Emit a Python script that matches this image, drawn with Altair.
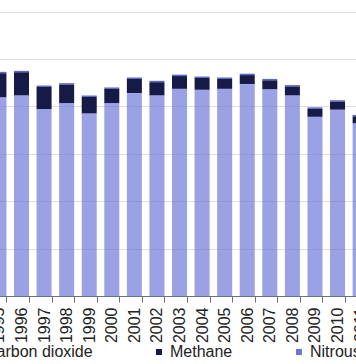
import altair as alt
import pandas as pd

years = [1995, 1996, 1997, 1998, 1999, 2000, 2001, 2002, 2003,
         2004, 2005, 2006, 2007, 2008, 2009, 2010, 2011]
nitrous = [41.9, 42.3, 39.4, 40.7, 38.5, 40.7, 42.8, 42.3, 43.7,
           43.5, 43.7, 44.7, 43.6, 42.3, 37.8, 39.3, 36.4]
methane = [5.1, 4.9, 4.7, 3.9, 3.5, 3.0, 3.0, 2.8, 2.7,
           2.5, 2.1, 1.9, 1.9, 1.9, 1.7, 1.7, 1.5]
co2 = [0.3, 0.3, 0.3, 0.3, 0.3, 0.3, 0.3, 0.3, 0.3,
       0.3, 0.3, 0.3, 0.3, 0.3, 0.3, 0.3, 0.3]

series_names = ["Carbon dioxide", "Methane", "Nitrous oxide"]
series_colors = ["#5a67d0", "#151a47", "#6a76d8"]
stack_order = {"Nitrous oxide": 0, "Methane": 1, "Carbon dioxide": 2}
fill_opacity = {"Nitrous oxide": 0.68, "Methane": 1.0, "Carbon dioxide": 1.0}

rows = []
for name, vals in zip(series_names, [co2, methane, nitrous]):
    for yr, v in zip(years, vals):
        rows.append({"year": str(yr), "series": name, "value": v,
                     "ord": stack_order[name], "op": fill_opacity[name]})
df = pd.DataFrame(rows)

FONT = "Liberation Sans"

chart = alt.Chart(df).mark_bar(clip=True).encode(
    x=alt.X("year:O",
            scale=alt.Scale(range=[-12.36, 371.4], paddingInner=0.335, paddingOuter=0.1675),
            axis=alt.Axis(title=None, labelAngle=270, tickBand="extent",
                          labelFont=FONT, labelFontSize=16, labelColor="#222222",
                          labelPadding=5, tickSize=6, tickColor="#6b7080",
                          domainColor="#6b7080", grid=False)),
    y=alt.Y("value:Q", stack="zero",
            scale=alt.Scale(domain=[0, 62.45], nice=False),
            axis=alt.Axis(title=None, labels=False, ticks=False, domain=False,
                          values=[0, 10, 20, 30, 40, 50, 60],
                          gridColor="#dedede", gridWidth=1)),
    color=alt.Color("series:N",
                    scale=alt.Scale(domain=series_names, range=series_colors),
                    legend=alt.Legend(title=None, orient="none", direction="horizontal",
                                      legendX=-34, legendY=344,
                                      symbolType="square", symbolSize=36,
                                      symbolStrokeWidth=0, symbolOpacity=1,
                                      labelFont=FONT, labelFontSize=16,
                                      labelColor="#222222", labelOffset=3,
                                      columnPadding=58, padding=0)),
    order=alt.Order("ord:Q"),
    opacity=alt.Opacity("op:Q", scale=None, legend=None),
).properties(
    width=356, height=296,
    autosize=alt.AutoSizeParams(type="none"),
    padding={"left": 0, "top": 0, "right": 0, "bottom": 68},
).configure_view(stroke=None)

chart.save("out.html", embed_options={"renderer": "svg", "actions": False})
